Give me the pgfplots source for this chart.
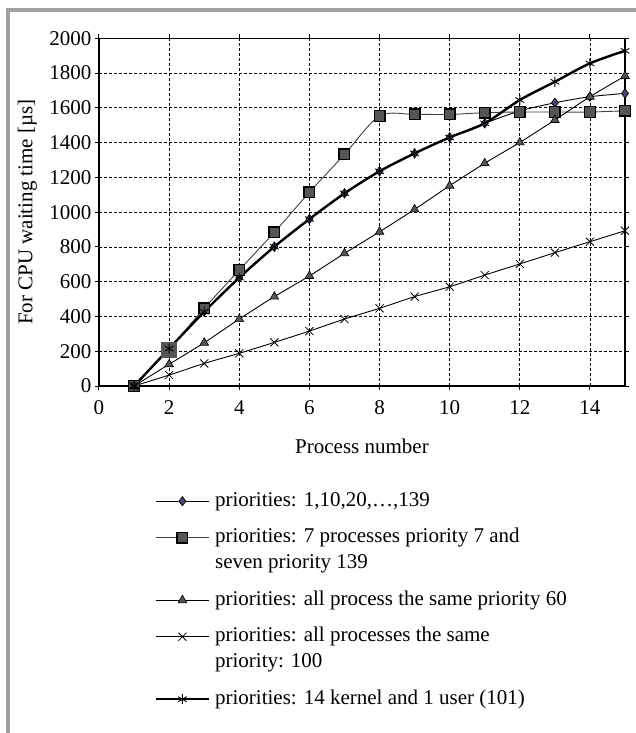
\documentclass[border=0pt]{standalone}
\usepackage{fontspec}
\setmainfont{Liberation Serif}
\usepackage{pgfplots}
\pgfplotsset{compat=1.18}
\definecolor{diam}{RGB}{72,72,112}
\definecolor{mgray}{RGB}{85,85,85}
\definecolor{framegray}{RGB}{160,160,160}

\begin{document}
\begin{tikzpicture}
\useasboundingbox (-99pt,-347pt) rectangle (537pt,386pt);
\begin{axis}[
  width=526pt, height=347.7pt, scale only axis,
  xmin=0, xmax=15, ymin=0, ymax=2000,
  xtick={0,2,...,14}, ytick={0,200,...,2000},
  grid=major,
  grid style={black, line width=0.8pt, dash pattern=on 3pt off 2pt},
  axis line style={black, line width=1.3pt},
  tick align=outside, major tick length=4pt,
  tick style={black, line width=1pt},
  /pgf/number format/assume math mode=true,
  /pgf/number format/1000 sep={},
  tick label style={font=\fontsize{21}{25}\selectfont},
  label style={font=\fontsize{21}{25}\selectfont},
  xticklabel style={yshift=-7pt},
  xlabel={Process number},
  ylabel={For CPU waiting time [µs]},
  xlabel style={at={(axis description cs:0.5,-0.1725)}, anchor=center},
  ylabel style={at={(axis description cs:-0.136,0.5)}, anchor=center},
  legend style={at={(axis description cs:0.1065,-0.2928)}, anchor=north west,
    draw=none, fill=none, inner sep=0pt,
    font=\fontsize{21}{26}\selectfont,
    cells={anchor=base west},
    nodes={inner xsep=5.5pt, inner ysep=0pt, text depth={}}, row sep=10.5pt},
  legend image code/.code={\draw[mark repeat=2, mark phase=2, #1]
    plot coordinates {(0pt,5pt) (26pt,5pt) (52pt,5pt)};},
]
% priorities 1,10,20,...,139
\addplot[smooth, black, line width=0.9pt, mark=diamond*, mark size=4.6pt,
  mark options={fill=diam, draw=black, line width=0.7pt}] coordinates {
  (1,0) (2,213) (3,427) (4,623) (5,801) (6,960) (7,1108) (8,1235)
  (9,1338) (10,1430) (11,1511) (12,1582) (13,1629) (14,1664) (15,1683)};
\addlegendentry{\begin{tabular}[t]{@{}l@{}}priorities: 1,10,20,\ldots,139\end{tabular}}

% 7 processes priority 7 and seven priority 139
\addplot[smooth, black!75, line width=0.9pt, mark=square*, mark size=5.3pt,
  mark options={fill=mgray, draw=black, line width=1.4pt}] coordinates {
  (1,0) (2,213) (3,447) (4,667) (5,884) (6,1114) (7,1332) (8,1553)
  (9,1562) (10,1562) (11,1572) (12,1576) (13,1576) (14,1576) (15,1583)};
\addlegendentry{\begin{tabular}[t]{@{}l@{}}priorities: 7 processes priority 7 and\\seven priority 139\end{tabular}}

\addplot[forget plot, only marks, mark=square*, mark size=7.5pt,
  mark options={fill=mgray, draw=mgray}] coordinates {(2,210)};

% all process the same priority 60
\addplot[smooth, black, line width=0.9pt, mark=triangle*, mark size=5pt,
  mark options={fill=mgray, draw=black, line width=0.6pt}] coordinates {
  (1,0) (2,125) (3,249) (4,385) (5,514) (6,633) (7,763) (8,887)
  (9,1016) (10,1152) (11,1281) (12,1401) (13,1530) (14,1664) (15,1783)};
\addlegendentry{\begin{tabular}[t]{@{}l@{}}priorities: all process the same priority 60\end{tabular}}

% all processes the same priority 100
\addplot[smooth, black, line width=0.9pt, mark=x, mark size=5.7pt,
  mark options={black, line width=0.8pt}] coordinates {
  (1,0) (2,63) (3,130) (4,188) (5,251) (6,316) (7,385) (8,447)
  (9,514) (10,571) (11,638) (12,702) (13,767) (14,830) (15,893)};
\addlegendentry{\begin{tabular}[t]{@{}l@{}}priorities: all processes the same\\priority: 100\end{tabular}}

% 14 kernel and 1 user
\addplot[smooth, black, line width=2.4pt, mark=asterisk, mark size=5pt,
  mark options={black, line width=0.9pt}] coordinates {
  (1,0) (2,215) (3,427) (4,623) (5,801) (6,960) (7,1108) (8,1235)
  (9,1338) (10,1430) (11,1511) (12,1645) (13,1750) (14,1856) (15,1928)};
\addlegendentry{\begin{tabular}[t]{@{}l@{}}priorities: 14 kernel and 1 user (101)\end{tabular}}
\end{axis}
\fill[framegray] (-93pt,-347pt) rectangle (-89pt,377.7pt);
\fill[framegray] (-93pt,377.7pt) rectangle (537pt,374.3pt);
\end{tikzpicture}
\end{document}
